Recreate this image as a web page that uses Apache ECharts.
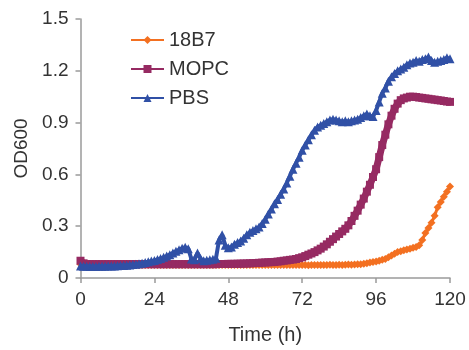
<!DOCTYPE html>
<html><head><meta charset="utf-8">
<script src="https://cdn.jsdelivr.net/npm/echarts@6/dist/echarts.min.js"></script>
<style>html,body{margin:0;padding:0;background:#fff}#c{width:469px;height:350px}</style>
</head><body><div id="c"></div>
<script>
var hours = [0,1,2,3,4,5,6,7,8,9,10,11,12,13,14,15,16,17,18,19,20,21,22,23,24,25,26,27,28,29,30,31,32,33,34,35,36,37,38,39,40,41,42,43,44,45,46,47,48,49,50,51,52,53,54,55,56,57,58,59,60,61,62,63,64,65,66,67,68,69,70,71,72,73,74,75,76,77,78,79,80,81,82,83,84,85,86,87,88,89,90,91,92,93,94,95,96,97,98,99,100,101,102,103,104,105,106,107,108,109,110,111,112,113,114,115,116,117,118,119,120];
var xTicks = [0,24,48,72,96,120];
var yTicks = [0,0.3,0.6,0.9,1.2,1.5];
var seriesNames = ['18B7','MOPC','PBS'];
var od18B7 = [0.08,0.075,0.075,0.075,0.075,0.075,0.075,0.075,0.075,0.075,
0.075,0.075,0.075,0.075,0.075,0.075,0.075,0.075,0.075,0.075,
0.075,0.075,0.075,0.075,0.075,0.075,0.075,0.075,0.075,0.075,
0.075,0.075,0.075,0.075,0.075,0.075,0.075,0.075,0.075,0.075,
0.075,0.075,0.075,0.075,0.075,0.075,0.075,0.075,0.075,0.075,
0.075,0.075,0.075,0.075,0.075,0.075,0.075,0.075,0.075,0.075,
0.075,0.075,0.075,0.075,0.075,0.075,0.075,0.075,0.075,0.075,
0.075,0.075,0.076,0.075,0.074,0.075,0.076,0.075,0.076,0.075,
0.076,0.077,0.075,0.076,0.077,0.076,0.077,0.078,0.077,0.078,
0.08,0.08,0.082,0.085,0.09,0.092,0.095,0.10,0.105,0.11,
0.12,0.13,0.14,0.15,0.155,0.16,0.165,0.17,0.175,0.18,
0.19,0.22,0.26,0.29,0.32,0.36,0.41,0.44,0.47,0.50,0.53];
var odMOPC = [0.10,0.085,0.08,0.08,0.08,0.08,0.08,0.08,0.08,0.08,
0.08,0.08,0.08,0.08,0.08,0.08,0.08,0.08,0.08,0.08,
0.08,0.08,0.08,0.08,0.08,0.08,0.08,0.08,0.08,0.08,
0.08,0.08,0.08,0.08,0.08,0.08,0.08,0.08,0.08,0.08,
0.08,0.08,0.08,0.08,0.08,0.081,0.081,0.081,0.082,0.082,
0.082,0.083,0.083,0.084,0.084,0.085,0.086,0.087,0.088,0.089,
0.09,0.091,0.092,0.093,0.095,0.097,0.10,0.102,0.105,0.107,
0.11,0.115,0.12,0.127,0.135,0.142,0.15,0.16,0.17,0.182,
0.195,0.21,0.225,0.24,0.255,0.27,0.285,0.305,0.33,0.36,
0.39,0.425,0.46,0.50,0.54,0.585,0.63,0.70,0.77,0.83,
0.89,0.94,0.98,1.01,1.03,1.04,1.045,1.05,1.05,1.048,
1.045,1.043,1.04,1.038,1.035,1.033,1.03,1.028,1.025,1.022,1.02];
var odPBS = [0.07,0.068,0.068,0.067,0.067,0.067,0.068,0.068,0.068,0.069,
0.07,0.07,0.071,0.072,0.073,0.074,0.076,0.078,0.08,0.083,
0.086,0.09,0.094,0.098,0.102,0.107,0.113,0.12,0.127,0.135,
0.145,0.155,0.163,0.172,0.178,0.17,0.11,0.105,0.145,0.112,
0.10,0.103,0.105,0.108,0.115,0.22,0.25,0.19,0.175,0.18,
0.195,0.205,0.215,0.23,0.25,0.265,0.275,0.285,0.295,0.315,
0.34,0.37,0.40,0.43,0.455,0.485,0.515,0.55,0.59,0.63,
0.665,0.70,0.74,0.77,0.80,0.83,0.855,0.875,0.885,0.895,
0.905,0.915,0.92,0.915,0.91,0.905,0.91,0.905,0.91,0.915,
0.92,0.93,0.94,0.95,0.94,0.935,0.97,1.02,1.07,1.10,
1.14,1.165,1.185,1.20,1.21,1.22,1.235,1.245,1.25,1.26,
1.255,1.265,1.27,1.28,1.26,1.25,1.255,1.26,1.265,1.275,1.27];

function pairs(v){ return hours.map(function(h,i){ return [h, v[i]]; }); }
var FONT = 'Liberation Sans, Arial, sans-serif';
var colors = ['#F37021','#962A62','#3050A6'];
var symbols = ['diamond','rect','triangle'];
var sizes = [8,8,9];
var widths = [3,7,4];
var vals = [od18B7, odMOPC, odPBS];

var chart = echarts.init(document.getElementById('c'), null, {renderer:'canvas'});
chart.setOption({
  animation:false,
  backgroundColor:'#fff',
  textStyle:{fontFamily:FONT},
  grid:{left:80.5, right:19, top:19, bottom:71},
  legend:{
    orient:'vertical', left:130, top:30, itemGap:9, padding:0,
    itemWidth:33, itemHeight:10,
    textStyle:{fontSize:20, color:'#333', fontFamily:FONT},
    data:seriesNames.map(function(n,i){ return {name:n, itemStyle:{color:colors[i]}, lineStyle:{width:2, color:colors[i]}}; })
  },
  xAxis:{
    type:'value', min:0, max:120, interval:24,
    name:'Time (h)', nameLocation:'middle', nameGap:47,
    nameTextStyle:{fontSize:20, color:'#333', fontFamily:FONT},
    axisLine:{lineStyle:{color:'#9a9a9a', width:1.5}},
    axisTick:{show:true, length:5, lineStyle:{color:'#9a9a9a', width:1.5}},
    axisLabel:{fontSize:19, color:'#333', margin:12, fontFamily:FONT,
      customValues: xTicks},
    splitLine:{show:false}
  },
  yAxis:{
    type:'value', min:0, max:1.5, interval:0.3,
    name:'OD600', nameLocation:'middle', nameGap:42,
    nameTextStyle:{fontSize:19, color:'#333', fontFamily:FONT},
    axisLine:{show:true, lineStyle:{color:'#9a9a9a', width:1.5}},
    axisTick:{show:true, length:5, lineStyle:{color:'#9a9a9a', width:1.5}},
    axisLabel:{fontSize:19, color:'#333', margin:12, fontFamily:FONT,
      formatter:function(v){ var t = yTicks.reduce(function(a,b){return Math.abs(b-v)<Math.abs(a-v)?b:a;}); return t===0?'0':t.toFixed(1); }},
    splitLine:{show:false}
  },
  series: seriesNames.map(function(n,i){
    return {
      name:n, type:'line', data:pairs(vals[i]),
      symbol:symbols[i], symbolSize:sizes[i], showSymbol:true,
      itemStyle:{color:colors[i]},
      lineStyle:{color:colors[i], width:widths[i]},
      z: 2+i
    };
  })
});
</script></body></html>
